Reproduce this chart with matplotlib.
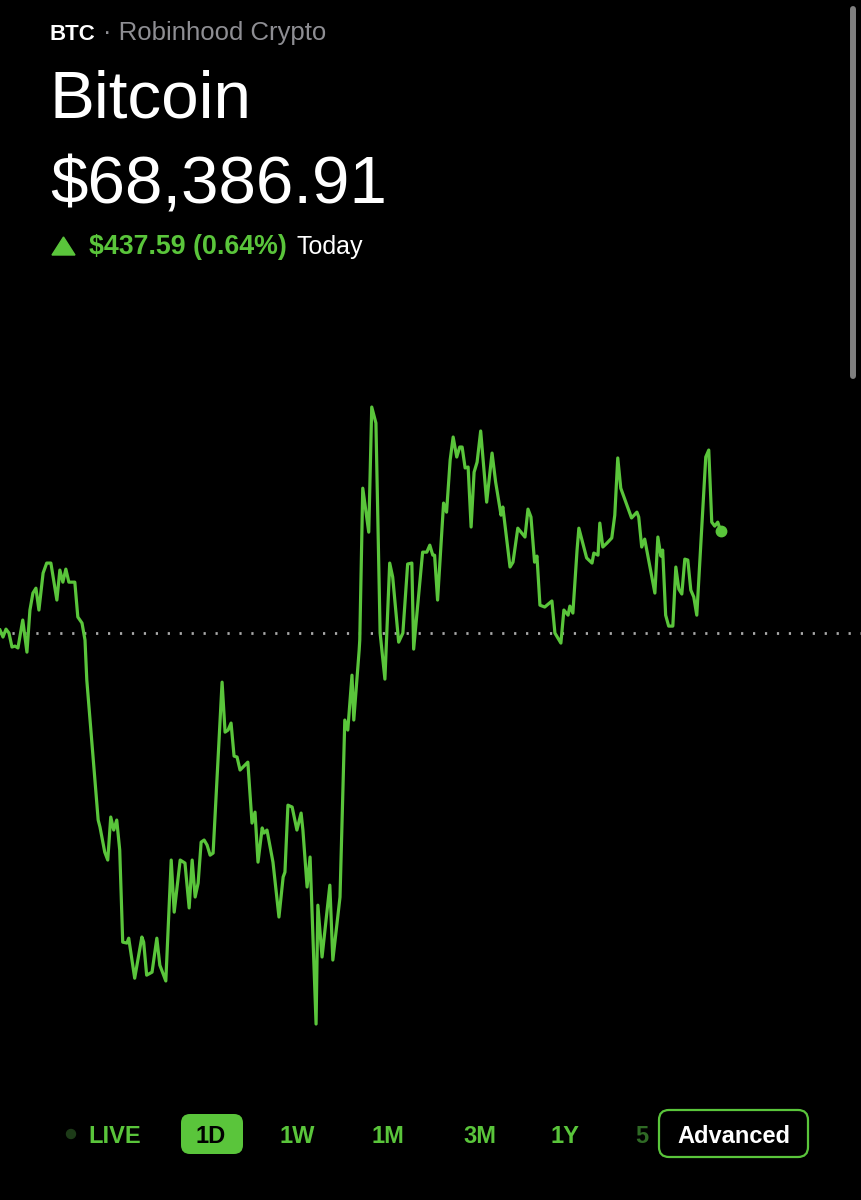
import numpy as np
import matplotlib.pyplot as plt
from matplotlib.patches import FancyBboxPatch, Polygon, Circle

# 1D price trace, minutes since start of day / price in USD
minutes = [0, 5, 10, 15, 20, 25, 30, 38, 45, 50, 55, 60, 65, 72, 78, 85, 95, 100, 105, 110,
           115, 125, 130, 137, 142, 145, 164, 167, 175, 180, 185, 190, 195, 200, 205, 212, 215, 225, 237, 240,
           245, 254, 262, 267, 277, 286, 291, 301, 309, 316, 321, 326, 331, 336, 341, 346, 351, 356, 371, 376,
           381, 386, 391, 396, 401, 414, 421, 426, 431, 438, 441, 446, 456, 466, 473, 476, 481, 488, 496, 503,
           506, 513, 518, 528, 531, 538, 551, 556, 568, 576, 581, 588, 591, 600, 601, 606, 616, 621, 628, 635,
           638, 643, 651, 656, 666, 673, 681, 688, 691, 706, 713, 718, 723, 726, 731, 741, 746, 752, 757, 763,
           768, 772, 777, 782, 787, 792, 797, 803, 813, 822, 828, 837, 840, 852, 857, 865, 877, 882, 887, 893,
           897, 902, 910, 922, 927, 937, 942, 949, 952, 957, 964, 967, 980, 989, 992, 999, 1002, 1007, 1014, 1022,
           1027, 1032, 1037, 1055, 1064, 1067, 1072, 1077, 1094, 1099, 1104, 1107, 1112, 1117, 1124, 1129, 1134, 1139, 1144, 1149,
           1154, 1159, 1164, 1179, 1184, 1189, 1194, 1199, 1204]
prices = [67962, 67932, 67966, 67949, 67889, 67893, 67885, 68005, 67867, 68048, 68121, 68142, 68048, 68207, 68250, 68250, 68091, 68220, 68168, 68224,
          68168, 68168, 68018, 67992, 67919, 67747, 67145, 67115, 67007, 66973, 67158, 67102, 67145, 67016, 66620, 66616, 66637, 66465, 66642, 66620,
          66478, 66491, 66637, 66521, 66453, 66973, 66749, 66973, 66960, 66767, 66973, 66814, 66874, 67050, 67059, 67037, 66994, 67003, 67738, 67523,
          67532, 67562, 67420, 67416, 67360, 67394, 67132, 67179, 66964, 67111, 67089, 67102, 66964, 66728, 66900, 66921, 67209, 67201, 67102, 67175,
          67102, 66857, 66986, 66268, 66779, 66556, 66865, 66543, 66814, 67575, 67532, 67768, 67575, 67876, 67919, 68572, 68383, 68921, 68852, 67949,
          67876, 67751, 68250, 68190, 67910, 67949, 68246, 68250, 67880, 68297, 68297, 68327, 68284, 68284, 68091, 68508, 68469, 68693, 68792, 68706,
          68749, 68749, 68659, 68663, 68405, 68641, 68684, 68818, 68512, 68723, 68598, 68456, 68491, 68233, 68254, 68400, 68362, 68482, 68448, 68254,
          68280, 68069, 68061, 68087, 67949, 67906, 68048, 68026, 68065, 68035, 68306, 68400, 68272, 68250, 68293, 68284, 68422, 68319, 68336, 68358,
          68456, 68702, 68572, 68444, 68469, 68448, 68319, 68353, 68121, 68362, 68280, 68306, 68026, 67979, 67979, 68233, 68138, 68117, 68267, 68263,
          68134, 68104, 68026, 68706, 68736, 68426, 68409, 68426, 68386.91]
prev_close = 67949.32
last_price = 68386.91
change = last_price - prev_close
ranges = ["LIVE", "1D", "1W", "1M", "3M", "1Y"]

GREEN = "#5ac53b"
plt.rcParams['font.family'] = ['Liberation Sans', 'DejaVu Sans']

fig = plt.figure(figsize=(8.62, 12), dpi=100, facecolor="black")

# price chart, full figure
ax = fig.add_axes([0, 0, 1, 1])
ax.set_facecolor("black")
ax.set_xlim(0, 1440)
ax.set_ylim(prev_close - 567 * 4.3, prev_close + 633 * 4.3)
ax.axis("off")
ax.axhline(prev_close, color="#a8a8a8", lw=2.0, linestyle=(0, (0.8, 3.5)))
ax.plot(minutes, prices, color=GREEN, lw=2.3, solid_joinstyle="round")
ax.plot(minutes[-1], prices[-1], "o", color=GREEN, ms=7.5)

# UI overlay in pixel coords
ui = fig.add_axes([0, 0, 1, 1])
ui.set_xlim(0, 862)
ui.set_ylim(1200, 0)
ui.axis("off")
ui.patch.set_alpha(0)

ui.text(50, 40, "BTC", color="white", fontsize=16, fontweight="bold")
ui.text(103, 40, "· Robinhood Crypto", color="#8e8e93", fontsize=18.5)
ui.text(50, 117, "Bitcoin", color="white", fontsize=48.5)
ui.text(50, 203, "${:,.2f}".format(last_price), color="white", fontsize=48.5)
ui.add_patch(Polygon([[52, 255], [75, 255], [63.5, 237]], closed=True, color=GREEN))
ui.text(89, 254, "${:,.2f} ({:.2f}%)".format(change, change / prev_close * 100),
        color=GREEN, fontsize=19.3, fontweight="bold")
ui.text(297, 254, "Today", color="white", fontsize=18)

# scrollbar
ui.plot([853, 853], [9, 376], color="#7f7f7f", lw=4.3, solid_capstyle="round")

# range selector
centers = [115, 210.5, 297, 388, 479.5, 565.5]
ui.add_patch(Circle((71, 1134), 4.5, color="#1d3b18"))
ui.add_patch(FancyBboxPatch((181, 1114), 62, 40, boxstyle="round,pad=0,rounding_size=9",
                            color=GREEN, lw=0))
for lab, cx in zip(ranges, centers):
    c = "black" if lab == "1D" else GREEN
    ui.text(cx, 1143, lab, color=c, fontsize=17, fontweight="bold", ha="center")
ui.text(642, 1143, "5", color="#2f6a25", fontsize=17, fontweight="bold", ha="center")
ui.add_patch(FancyBboxPatch((659, 1110), 149, 47, boxstyle="round,pad=0,rounding_size=10",
                            facecolor="black", edgecolor=GREEN, lw=1.6))
ui.text(733.5, 1143, "Advanced", color="white", fontsize=17, fontweight="bold", ha="center")

fig.savefig("out.png", dpi=100, facecolor="black")
